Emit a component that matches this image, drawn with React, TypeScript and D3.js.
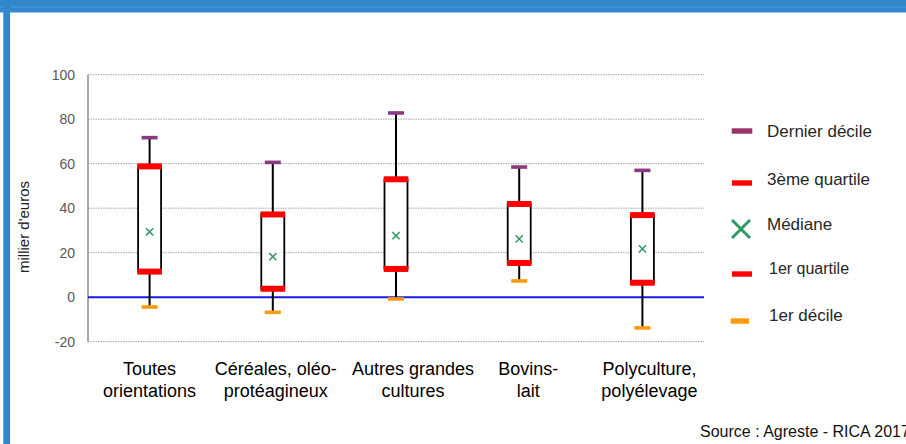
import * as d3 from 'd3';

const categories = ['Toutes orientations', 'Céréales, oléo-protéagineux', 'Autres grandes cultures', 'Bovins-lait', 'Polyculture, polyélevage'];
const labelLines = [
  ['Toutes', 'orientations'],
  ['Céréales, oléo-', 'protéagineux'],
  ['Autres grandes', 'cultures'],
  ['Bovins-', 'lait'],
  ['Polyculture,', 'polyélevage'],
];
const decile9 = [71.7, 60.6, 82.8, 58.5, 57.0];
const quartile3 = [58.8, 37.2, 53.0, 41.9, 36.9];
const medians = [29.4, 18.2, 27.7, 26.2, 21.7];
const quartile1 = [11.5, 3.8, 12.7, 15.4, 6.5];
const decile1 = [-4.4, -6.8, -0.8, 7.3, -13.8];
const yTicks = [-20, 0, 20, 40, 60, 80, 100];
const legendLabels = ['Dernier décile', '3ème quartile', 'Médiane', '1er quartile', '1er décile'];

const W = 906;
const H = 444;
const font = 'Liberation Sans, Arial, sans-serif';
const purple = '#8a3a7f';
const red = '#ff0000';
const green = '#2e9a62';
const orange = '#ff9a10';

// small horizontal nudges of the category labels, as in the original
const labelShift = [0, 3, 17, 9, 7];

export default function App() {
  const y = d3.scaleLinear().domain([-20, 100]).range([341.7, 74.7]);
  const x = d3.scaleBand<string>().domain(categories).range([88, 704]);
  const cx = (i: number) => (x(categories[i]) as number) + x.bandwidth() / 2;

  const legendText = [131, 179, 224, 268, 315];
  const legendMark = [131, 183, 229, 274, 321];
  const legendKinds = ['d9', 'q', 'med', 'q', 'd1'];

  return (
    <div style={{ position: 'absolute', left: 0, top: 0 }}>
      <svg width={W} height={H} style={{ display: 'block', background: '#fff' }}>
        {/* frame */}
        <rect x={0} y={0} width={W} height={12.5} fill="#3287cb" />
        <rect x={0} y={6.5} width={W} height={1} fill="#4d9ad6" />
        <rect x={3.3} y={0} width={6.8} height={H} fill="#3287cb" />

        {/* grid */}
        {yTicks.filter(t => t !== 0).map(t => (
          <line key={t} x1={88} x2={704} y1={y(t)} y2={y(t)} stroke="#a6a6a6" strokeWidth={1} strokeDasharray="1.5,1" />
        ))}
        <line x1={88} x2={88} y1={y(100)} y2={y(-20)} stroke="#8c8c8c" strokeWidth={1.5} />
        <line x1={88} x2={704} y1={y(0)} y2={y(0)} stroke="#1a1ae6" strokeWidth={2} />

        {yTicks.map(t => (
          <text key={t} x={75} y={y(t)} dy="0.36em" textAnchor="end" fontFamily={font} fontSize={14} fill="#595959">{t}</text>
        ))}
        <text transform="translate(29,227) rotate(-90)" textAnchor="middle" fontFamily={font} fontSize={15} fill="#222">millier d'euros</text>

        {/* boxes */}
        {categories.map((c, i) => {
          const m = cx(i);
          const s = 3.6;
          return (
            <g key={c}>
              <line x1={m} x2={m} y1={y(decile1[i])} y2={y(decile9[i])} stroke="#000" strokeWidth={2} />
              <rect x={m - 11.5} y={y(quartile3[i])} width={23} height={y(quartile1[i]) - y(quartile3[i])} fill="#fff" stroke="#000" strokeWidth={1.8} />
              <rect x={m - 12.3} y={y(quartile3[i]) - 3} width={24.6} height={6} fill={red} />
              <rect x={m - 12.3} y={y(quartile1[i]) - 3} width={24.6} height={6} fill={red} />
              <rect x={m - 8} y={y(decile9[i]) - 1.8} width={16} height={3.6} fill={purple} />
              <rect x={m - 8} y={y(decile1[i]) - 1.8} width={16} height={3.6} fill={orange} />
              <path d={`M${m - s},${y(medians[i]) - s}L${m + s},${y(medians[i]) + s}M${m - s},${y(medians[i]) + s}L${m + s},${y(medians[i]) - s}`} stroke={green} strokeWidth={1.5} />
              {labelLines[i].map((ln, k) => (
                <text key={k} x={m + labelShift[i]} y={369 + k * 22} dy="0.35em" textAnchor="middle" fontFamily={font} fontSize={18} fill="#000">{ln}</text>
              ))}
            </g>
          );
        })}

        {/* legend */}
        {legendLabels.map((lab, i) => {
          const ym = legendMark[i];
          const kind = legendKinds[i];
          let mark;
          if (kind === 'd9') mark = <rect x={731.7} y={ym - 2.7} width={20.6} height={5.4} fill="#993366" />;
          else if (kind === 'q') mark = <rect x={732} y={ym - 2.7} width={20} height={5.4} fill={red} />;
          else if (kind === 'med') mark = <path d={`M732,${ym - 9}L750,${ym + 9}M732,${ym + 9}L750,${ym - 9}`} stroke={green} strokeWidth={3} />;
          else mark = <rect x={730.7} y={ym - 2.7} width={18.3} height={5.4} fill={orange} />;
          return (
            <g key={lab}>
              {mark}
              <text x={i === 3 || i === 4 ? 769 : 767} y={legendText[i]} dy="0.35em" fontFamily={font} fontSize={i === 3 ? 16 : 17} fill="#262626">{lab}</text>
            </g>
          );
        })}

        <text x={700} y={431} dy="0.35em" fontFamily={font} fontSize={16} fill="#111">Source : Agreste - RICA 2017</text>
      </svg>
    </div>
  );
}
